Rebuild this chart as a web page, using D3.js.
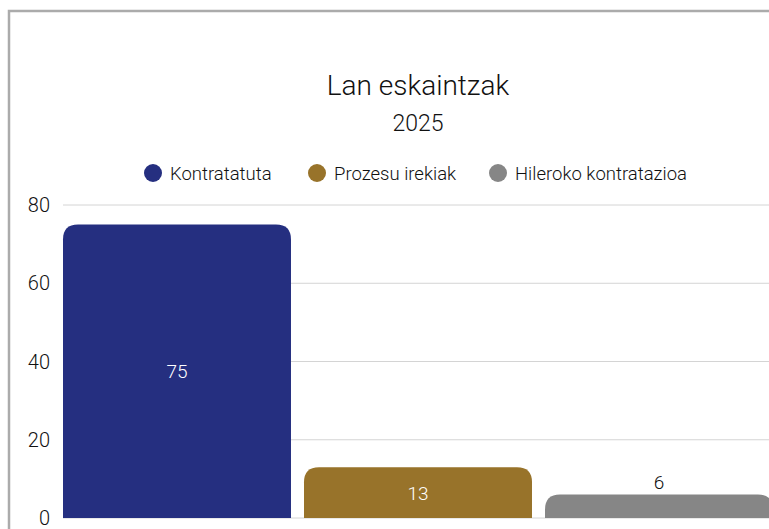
<!DOCTYPE html>
<html>
<head>
<meta charset="utf-8">
<script src="https://cdn.jsdelivr.net/npm/d3@7"></script>
<style>
  body { margin: 0; background: #fff; overflow: hidden; }
  text { font-family: Roboto, "Noto Sans", sans-serif; font-weight: 300; }
</style>
</head>
<body>
<div id="plot"></div>
<script>
// chart data
const categories = ["Kontratatuta", "Prozesu irekiak", "Hileroko kontratazioa"];
const values = [75, 13, 6];
const colors = ["#252f80", "#98732a", "#868686"];
const yTicks = [0, 20, 40, 60, 80];
const title = "Lan eskaintzak";
const subtitle = "2025";

const w = 769;
const h = 529;
const margin = {top: 205, left: 63, bottom: 11};
const plotRight = 773;
const innerHeight = h - margin.top - margin.bottom;

const svg = d3.select("div#plot")
  .append("svg")
  .attr("width", w)
  .attr("height", h);

// frame border
svg.append("path")
  .attr("d", `M9,${h} V11 H${w}`)
  .attr("fill", "none")
  .attr("stroke", "#ababab")
  .attr("stroke-width", 2.5);

// titles
svg.append("text")
  .attr("x", 418).attr("y", 95)
  .attr("text-anchor", "middle")
  .attr("font-size", 28)
  .attr("fill", "#111")
  .text(title);

svg.append("text")
  .attr("x", 418).attr("y", 131)
  .attr("text-anchor", "middle")
  .attr("font-size", 23)
  .attr("fill", "#111")
  .text(subtitle);

// legend
const legendX = [153, 317, 498];
const legend = svg.append("g").selectAll("g")
  .data(categories)
  .enter().append("g")
  .attr("transform", (d, i) => `translate(${legendX[i]}, 173)`);

legend.append("circle")
  .attr("r", 9)
  .attr("fill", (d, i) => colors[i]);

legend.append("text")
  .attr("x", 17).attr("y", 6.5)
  .attr("font-size", 18.5)
  .attr("fill", "#111")
  .text(d => d);

// scales
const xScale = d3.scaleBand()
  .domain(categories)
  .range([margin.left, plotRight])
  .paddingInner(0.054)
  .paddingOuter(0);

const yScale = d3.scaleLinear()
  .domain([0, 80])
  .range([margin.top + innerHeight, margin.top]);

// gridlines
svg.append("g").selectAll("line")
  .data(yTicks)
  .enter().append("line")
  .attr("x1", margin.left).attr("x2", w)
  .attr("y1", d => yScale(d)).attr("y2", d => yScale(d))
  .attr("stroke", "#d4d4d4")
  .attr("stroke-width", 1);

// y tick labels
svg.append("g").selectAll("text")
  .data(yTicks)
  .enter().append("text")
  .attr("x", 50)
  .attr("y", d => yScale(d) + 7)
  .attr("text-anchor", "end")
  .attr("font-size", 20)
  .attr("fill", "#111")
  .text(d => d);

// bars with rounded tops
const data = categories.map((c, i) => ({category: c, value: values[i], color: colors[i]}));
const r = 15;

function barPath(d) {
  const x0 = xScale(d.category);
  const x1 = x0 + xScale.bandwidth();
  const y0 = yScale(0);
  const y1 = yScale(d.value);
  const rr = Math.min(r, (y0 - y1));
  return `M${x0},${y0} V${y1 + rr} Q${x0},${y1} ${x0 + rr},${y1} H${x1 - rr} Q${x1},${y1} ${x1},${y1 + rr} V${y0} Z`;
}

svg.append("g").selectAll("path")
  .data(data)
  .enter().append("path")
  .attr("d", barPath)
  .attr("fill", d => d.color);

// value labels
svg.append("g").selectAll("text")
  .data(data)
  .enter().append("text")
  .attr("x", d => xScale(d.category) + xScale.bandwidth() / 2)
  .attr("y", d => d.value > 10 ? (yScale(d.value) + yScale(0)) / 2 + 7 : yScale(d.value) - 6)
  .attr("text-anchor", "middle")
  .attr("font-size", 19)
  .attr("fill", d => d.value > 10 ? "#ffffff" : "#111")
  .text(d => d.value);
</script>
</body>
</html>
